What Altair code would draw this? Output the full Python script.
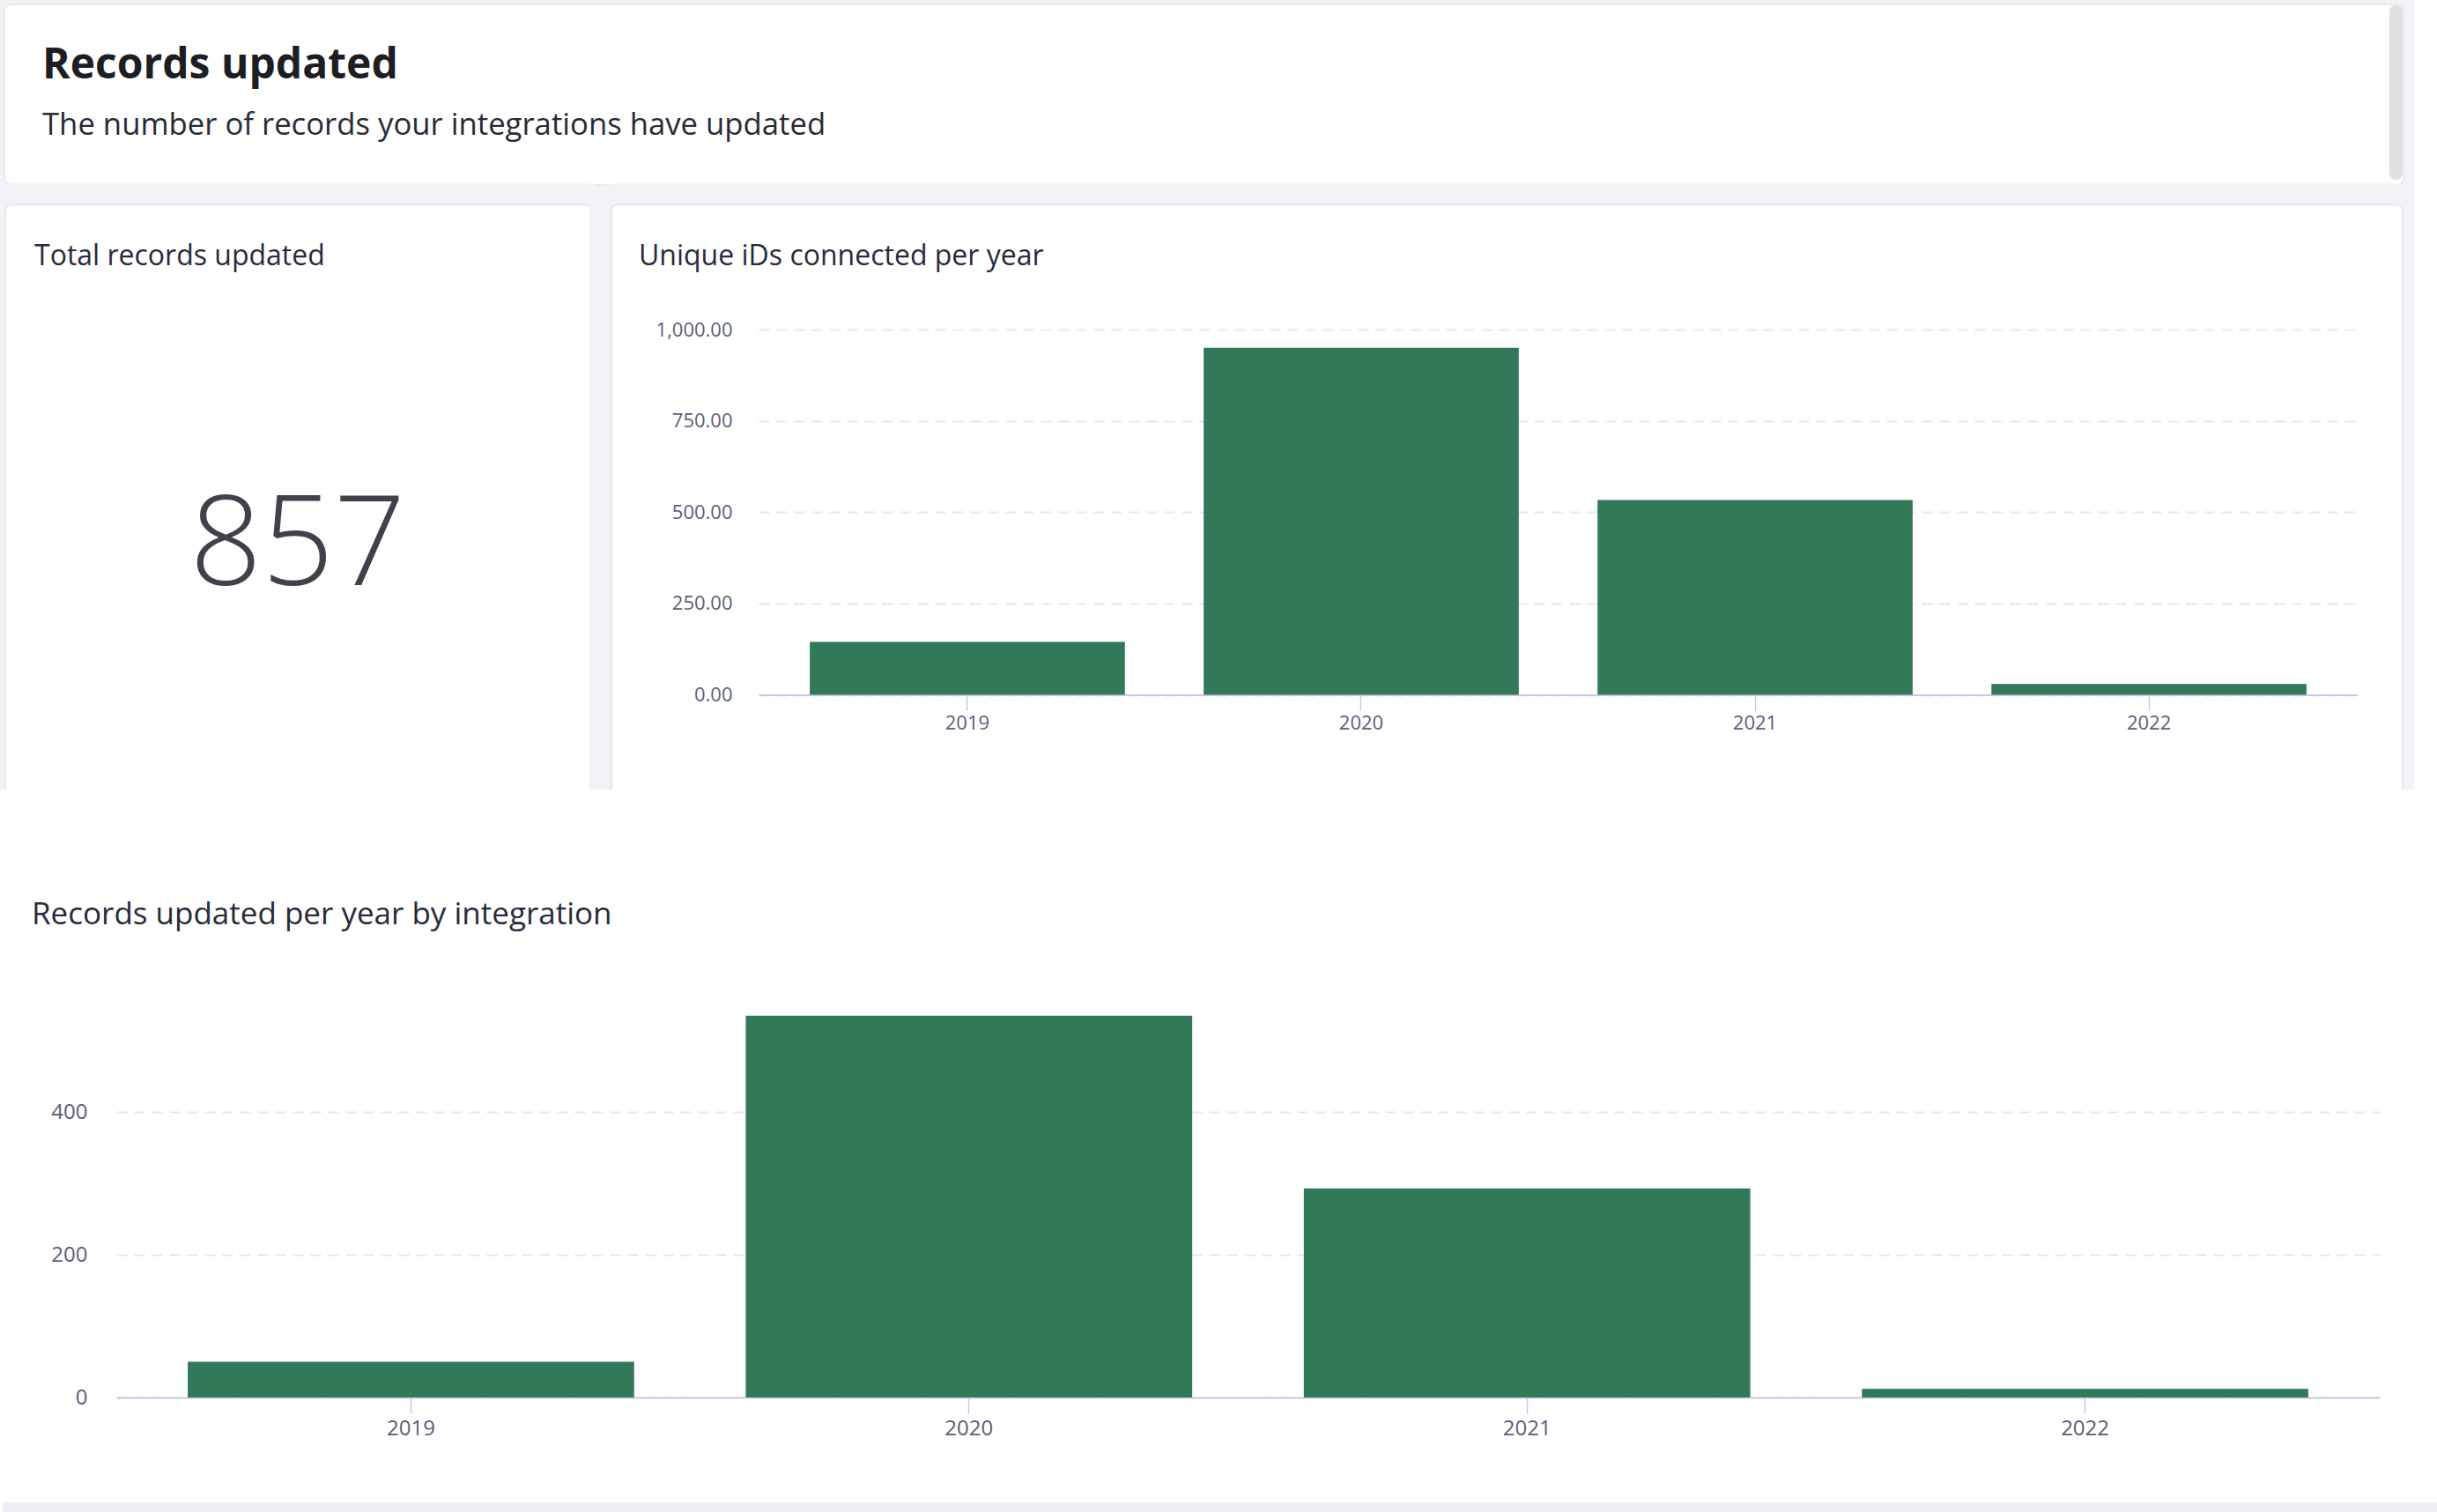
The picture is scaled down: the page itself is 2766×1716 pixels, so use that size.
import altair as alt
import pandas as pd

# ---- data ----
years = ["2019", "2020", "2021", "2022"]
unique_ids = [145, 950, 533, 30]
records_updated = [50, 535, 293, 12]
total_records = "857"
top_ticks = [0, 250, 500, 750, 1000]
bottom_ticks = [0, 200, 400]

page_title = "Records updated"
page_subtitle = "The number of records your integrations have updated"
card_total_title = "Total records updated"
card_ids_title = "Unique iDs connected per year"
bottom_title = "Records updated per year by integration"

W, H = 2766, 1716
FONT = "Open Sans"
GREEN = "#32795a"
LABEL = "#5a5e78"
AXISLINE = "#c6cce3"
GRID = "#e6e8ef"
BG = "#f2f3f6"
EDGE = "#e4e5eb"
RING = 12  # half width of the grey surround painted around each card
RADIUS = 8


def one():
    return alt.Data(values=[{"a": 1}])


def box(x, x2, y, y2, fill, radius=0):
    return alt.Chart(one()).mark_rect(fill=fill, cornerRadius=radius).encode(
        x=alt.value(x), x2=alt.value(x2), y=alt.value(y), y2=alt.value(y2)
    )


def card(x, x2, y, y2):
    """Grey surround (thick stroke ring, hollow) + thin border; interior left open."""
    ring = alt.Chart(one()).mark_rect(
        fill="transparent", stroke=BG, strokeWidth=2 * RING, cornerRadius=RADIUS + RING
    ).encode(
        x=alt.value(x - RING), x2=alt.value(x2 + RING),
        y=alt.value(y - RING), y2=alt.value(y2 + RING),
    )
    edge = alt.Chart(one()).mark_rect(
        fill="transparent", stroke=EDGE, strokeWidth=1.5, cornerRadius=RADIUS
    ).encode(x=alt.value(x), x2=alt.value(x2), y=alt.value(y), y2=alt.value(y2))
    return [ring, edge]


def label(text, x, y, size, weight=400, color="#282b3a", align="left"):
    return alt.Chart(alt.Data(values=[{"t": text}])).mark_text(
        align=align, baseline="alphabetic", font=FONT, fontSize=size,
        fontWeight=weight, color=color
    ).encode(x=alt.value(x), y=alt.value(y), text="t:N")


# ---- decorations ----
layers = []
layers += card(5, 2728, 5, 210)
layers += card(6, 672, 232, 915)
layers += card(693, 2727, 232, 915)
layers += [
    box(0, W, 896, 945, "white"),
    box(2740, W, 0, 896, "white"),
    box(2712, 2727, 6, 204, "#e1e1e3", radius=7),
    box(3, W, 1705, H, "#eff0f4"),
    label(page_title, 48, 89, 48, weight=700, color="#1d1e23"),
    label(page_subtitle, 48, 153, 34.7, color="#2a2b33"),
    label(card_total_title, 39, 301, 32),
    label(card_ids_title, 725, 301, 32),
    label(total_records, 338, 664, 143, weight=300, color="#3f4249", align="center"),
    label(bottom_title, 36, 1049, 35),
]

# ---- top bar chart ----
top_df = pd.DataFrame({"year": years, "value": unique_ids})
top_x0, top_x1, top_y0, top_y1 = 861, 2676, 788.6, 374.0
top_chart = alt.Chart(top_df).mark_bar(color=GREEN).encode(
    x=alt.X(
        "year:O", sort=years, title=None,
        scale=alt.Scale(range=[top_x0, top_x1], paddingInner=0.2, paddingOuter=0.13),
        axis=alt.Axis(
            orient="bottom", offset=-(H - top_y0), labelAngle=0,
            labelFont=FONT, labelFontSize=22, labelColor=LABEL, labelPadding=4,
            tickSize=18, tickColor=AXISLINE, tickWidth=1.5,
            domainColor=AXISLINE, domainWidth=2, grid=False,
        ),
    ),
    y=alt.Y(
        "value:Q", title=None,
        scale=alt.Scale(domain=[0, 1000], range=[top_y0, top_y1], nice=False),
        axis=alt.Axis(
            orient="left", offset=-top_x0, values=top_ticks, format=",.2f",
            labelFont=FONT, labelFontSize=22, labelColor=LABEL, labelPadding=30,
            ticks=False, domain=False, grid=True, gridColor=GRID,
            gridDash=[12, 8], gridWidth=2,
        ),
    ),
)

# ---- bottom bar chart ----
bot_df = pd.DataFrame({"year": years, "value": records_updated})
bot_x0, bot_x1, bot_y0 = 132, 2701, 1586.0
px_per_unit = 0.81
bot_chart = alt.Chart(bot_df).mark_bar(color=GREEN).encode(
    x=alt.X(
        "year:O", sort=years, title=None,
        scale=alt.Scale(range=[bot_x0, bot_x1], paddingInner=0.2, paddingOuter=0.128),
        axis=alt.Axis(
            orient="bottom", offset=-(H - bot_y0), labelAngle=0,
            labelFont=FONT, labelFontSize=24, labelColor=LABEL, labelPadding=5,
            tickSize=18, tickColor=AXISLINE, tickWidth=1.5,
            domainColor=AXISLINE, domainWidth=2, grid=False,
        ),
    ),
    y=alt.Y(
        "value:Q", title=None,
        scale=alt.Scale(domain=[0, max(records_updated)],
                        range=[bot_y0, bot_y0 - max(records_updated) * px_per_unit],
                        nice=False),
        axis=alt.Axis(
            orient="left", offset=-bot_x0, values=bottom_ticks, format="d",
            labelFont=FONT, labelFontSize=24, labelColor=LABEL, labelPadding=33,
            ticks=False, domain=False, grid=True, gridColor=GRID,
            gridDash=[12, 8], gridWidth=2,
        ),
    ),
)

chart = alt.layer(*layers, top_chart, bot_chart).resolve_scale(
    x="independent", y="independent"
).resolve_axis(
    x="independent", y="independent"
).properties(
    width=W, height=H, padding=0, background="white",
    autosize=alt.AutoSizeParams(type="none"),
).configure_view(stroke=None)

chart.save("out.html", embed_options={"renderer": "svg", "actions": False})
